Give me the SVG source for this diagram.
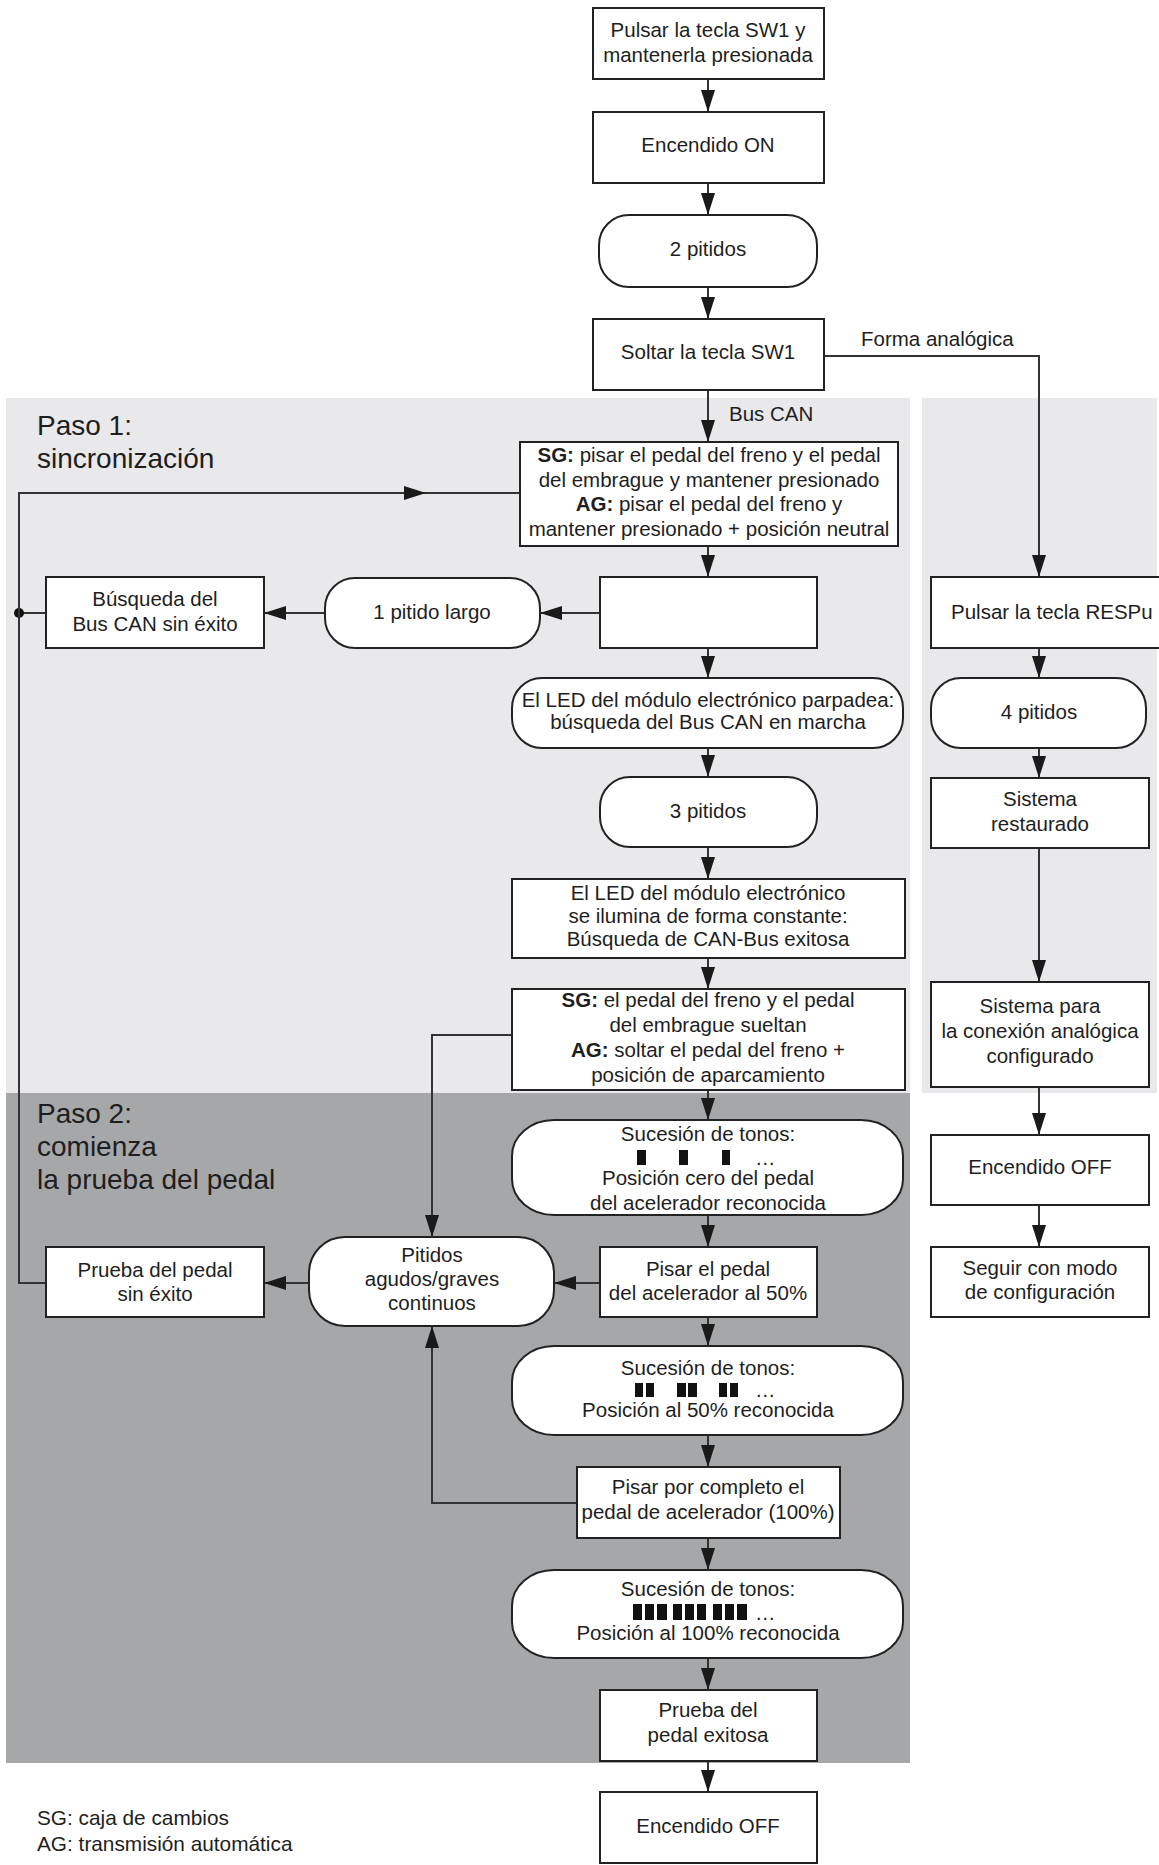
<svg xmlns="http://www.w3.org/2000/svg" width="1159" height="1865" viewBox="0 0 1159 1865">
<defs>
<marker id="ah" markerUnits="userSpaceOnUse" markerWidth="22" markerHeight="14" refX="22" refY="7" orient="auto">
<path d="M0,0 L22,7 L0,14 z" fill="#1a1a1a"/>
</marker>
<style>
.box{fill:#fff;stroke:#222;stroke-width:2}
.t{font-family:"Liberation Sans",Arial,sans-serif;font-size:20.5px;fill:#1e1e1e;text-anchor:middle}
.tl{font-family:"Liberation Sans",Arial,sans-serif;font-size:20.5px;fill:#1e1e1e}
.lg{font-family:"Liberation Sans",Arial,sans-serif;font-size:20.8px;fill:#1e1e1e}
.big{font-family:"Liberation Sans",Arial,sans-serif;font-size:28px;fill:#1e1e1e}
.c{fill:none;stroke:#333;stroke-width:2}
.ca{fill:none;stroke:#333;stroke-width:2;marker-end:url(#ah)}
.bar{fill:#111}
.b{font-weight:bold}
</style>
</defs>
<rect width="1159" height="1865" fill="#fff"/>
<g id="panels">
<rect x="6" y="398" width="904" height="695" fill="#e9e9eb"/>
<rect x="6" y="1093" width="904" height="670" fill="#a5a7a9"/>
<rect x="922" y="398" width="235" height="695" fill="#e9e9eb"/>
<text class="big" x="37" y="435">Paso 1:</text>
<text class="big" x="37" y="468">sincronización</text>
<text class="big" x="37" y="1123">Paso 2:</text>
<text class="big" x="37" y="1156">comienza</text>
<text class="big" x="37" y="1189">la prueba del pedal</text>
</g>
<g id="connectors">
<line class="ca" x1="708" y1="79" x2="708" y2="112"/>
<line class="ca" x1="708" y1="183" x2="708" y2="215"/>
<line class="ca" x1="708" y1="287" x2="708" y2="319"/>
<line class="ca" x1="708" y1="390" x2="708" y2="442"/>
<line class="ca" x1="708" y1="546" x2="708" y2="577"/>
<line class="ca" x1="708" y1="648" x2="708" y2="678"/>
<line class="ca" x1="708" y1="748" x2="708" y2="777"/>
<line class="ca" x1="708" y1="847" x2="708" y2="879"/>
<line class="ca" x1="708" y1="958" x2="708" y2="989"/>
<line class="ca" x1="708" y1="1090" x2="708" y2="1120"/>
<line class="ca" x1="708" y1="1215" x2="708" y2="1247"/>
<line class="ca" x1="708" y1="1317" x2="708" y2="1346"/>
<line class="ca" x1="708" y1="1435" x2="708" y2="1467"/>
<line class="ca" x1="708" y1="1538" x2="708" y2="1570"/>
<line class="ca" x1="708" y1="1658" x2="708" y2="1690"/>
<line class="ca" x1="708" y1="1761" x2="708" y2="1792"/>
<path class="ca" d="M824,356 H1039 V577"/>
<line class="ca" x1="1039" y1="648" x2="1039" y2="678"/>
<line class="ca" x1="1039" y1="748" x2="1039" y2="778"/>
<line class="ca" x1="1039" y1="848" x2="1039" y2="982"/>
<line class="ca" x1="1039" y1="1087" x2="1039" y2="1135"/>
<line class="ca" x1="1039" y1="1205" x2="1039" y2="1247"/>
<line class="ca" x1="600" y1="613" x2="540" y2="613"/>
<line class="ca" x1="325" y1="613" x2="264" y2="613"/>
<line class="c" x1="46" y1="613" x2="19" y2="613"/>
<circle cx="19" cy="613" r="5" fill="#111"/>
<path class="c" d="M46,1283 H19 V493 H520"/>
<line class="ca" x1="300" y1="493" x2="426" y2="493"/>
<path class="ca" d="M512,1035 H432 V1237"/>
<path class="ca" d="M577,1503 H432 V1326"/>
<line class="ca" x1="600" y1="1283" x2="554" y2="1283"/>
<line class="ca" x1="309" y1="1283" x2="264" y2="1283"/>
<text class="tl" x="861" y="346">Forma analógica</text>
<text class="tl" x="729" y="421">Bus CAN</text>
</g>
<g id="n1"><rect class="box" x="593" y="8" width="231" height="71"/><text class="t" x="708" y="37">Pulsar la tecla SW1 y</text><text class="t" x="708" y="62">mantenerla presionada</text></g>
<g id="n2"><rect class="box" x="593" y="112" width="231" height="71"/><text class="t" x="708" y="152">Encendido ON</text></g>
<g id="n3"><rect class="box" x="599" y="215" width="218" height="72" rx="30" ry="30"/><text class="t" x="708" y="256">2 pitidos</text></g>
<g id="n4"><rect class="box" x="593" y="319" width="231" height="71"/><text class="t" x="708" y="359">Soltar la tecla SW1</text></g>
<g id="n5"><rect class="box" x="520" y="442" width="378" height="104"/>
<text class="t" x="709" y="462"><tspan class="b">SG:</tspan> pisar el pedal del freno y el pedal</text>
<text class="t" x="709" y="487">del embrague y mantener presionado</text>
<text class="t" x="709" y="511"><tspan class="b">AG:</tspan> pisar el pedal del freno y</text>
<text class="t" x="709" y="536">mantener presionado + posición neutral</text></g>
<g id="n6"><rect class="box" x="600" y="577" width="217" height="71"/></g>
<g id="n7"><rect class="box" x="325" y="578" width="215" height="70" rx="30" ry="30"/><text class="t" x="432" y="619">1 pitido largo</text></g>
<g id="n8"><rect class="box" x="46" y="577" width="218" height="71"/><text class="t" x="155" y="606">Búsqueda del</text><text class="t" x="155" y="631">Bus CAN sin éxito</text></g>
<g id="n9"><rect class="box" x="512" y="678" width="391" height="70" rx="30" ry="30"/><text class="t" x="708" y="707">El LED del módulo electrónico parpadea:</text><text class="t" x="708" y="729">búsqueda del Bus CAN en marcha</text></g>
<g id="n10"><rect class="box" x="600" y="777" width="217" height="70" rx="30" ry="30"/><text class="t" x="708" y="818">3 pitidos</text></g>
<g id="n11"><rect class="box" x="512" y="879" width="393" height="79"/><text class="t" x="708" y="900">El LED del módulo electrónico</text><text class="t" x="708" y="923">se ilumina de forma constante:</text><text class="t" x="708" y="946">Búsqueda de CAN-Bus exitosa</text></g>
<g id="n12"><rect class="box" x="512" y="989" width="393" height="101"/>
<text class="t" x="708" y="1007"><tspan class="b">SG:</tspan> el pedal del freno y el pedal</text>
<text class="t" x="708" y="1032">del embrague sueltan</text>
<text class="t" x="708" y="1057"><tspan class="b">AG:</tspan> soltar el pedal del freno +</text>
<text class="t" x="708" y="1082">posición de aparcamiento</text></g>
<g id="n13"><rect class="box" x="512" y="1120" width="391" height="95" rx="42" ry="36"/>
<text class="t" x="708" y="1141">Sucesión de tonos:</text>
<rect class="bar" x="637" y="1150" width="9" height="15"/><rect class="bar" x="679" y="1150" width="9" height="15"/><rect class="bar" x="722" y="1150" width="8" height="15"/>
<text class="tl" x="755" y="1165">…</text>
<text class="t" x="708" y="1185">Posición cero del pedal</text>
<text class="t" x="708" y="1210">del acelerador reconocida</text></g>
<g id="n14"><rect class="box" x="600" y="1247" width="217" height="70"/><text class="t" x="708" y="1276">Pisar el pedal</text><text class="t" x="708" y="1300">del acelerador al 50%</text></g>
<g id="n15"><rect class="box" x="309" y="1237" width="245" height="89" rx="36" ry="36"/><text class="t" x="432" y="1262">Pitidos</text><text class="t" x="432" y="1286">agudos/graves</text><text class="t" x="432" y="1310">continuos</text></g>
<g id="n16"><rect class="box" x="46" y="1247" width="218" height="70"/><text class="t" x="155" y="1277">Prueba del pedal</text><text class="t" x="155" y="1301">sin éxito</text></g>
<g id="n17"><rect class="box" x="512" y="1346" width="391" height="89" rx="42" ry="36"/>
<text class="t" x="708" y="1375">Sucesión de tonos:</text>
<rect class="bar" x="635" y="1383" width="8" height="14"/><rect class="bar" x="646" y="1383" width="8" height="14"/>
<rect class="bar" x="677" y="1383" width="9" height="14"/><rect class="bar" x="688" y="1383" width="9" height="14"/>
<rect class="bar" x="719" y="1383" width="8" height="14"/><rect class="bar" x="730" y="1383" width="8" height="14"/>
<text class="tl" x="755" y="1397">…</text>
<text class="t" x="708" y="1417">Posición al 50% reconocida</text></g>
<g id="n18"><rect class="box" x="577" y="1467" width="263" height="71"/><text class="t" x="708" y="1494">Pisar por completo el</text><text class="t" x="708" y="1519">pedal de acelerador (100%)</text></g>
<g id="n19"><rect class="box" x="512" y="1570" width="391" height="88" rx="42" ry="36"/>
<text class="t" x="708" y="1596">Sucesión de tonos:</text>
<rect class="bar" x="633" y="1604" width="9" height="16"/><rect class="bar" x="645" y="1604" width="9" height="16"/><rect class="bar" x="657" y="1604" width="10" height="16"/>
<rect class="bar" x="673" y="1604" width="9" height="16"/><rect class="bar" x="685" y="1604" width="9" height="16"/><rect class="bar" x="697" y="1604" width="9" height="16"/>
<rect class="bar" x="713" y="1604" width="9" height="16"/><rect class="bar" x="725" y="1604" width="9" height="16"/><rect class="bar" x="737" y="1604" width="10" height="16"/>
<text class="tl" x="755" y="1620">…</text>
<text class="t" x="708" y="1640">Posición al 100% reconocida</text></g>
<g id="n20"><rect class="box" x="600" y="1690" width="217" height="71"/><text class="t" x="708" y="1717">Prueba del</text><text class="t" x="708" y="1742">pedal exitosa</text></g>
<g id="n21"><rect class="box" x="600" y="1792" width="217" height="71"/><text class="t" x="708" y="1833">Encendido OFF</text></g>
<g id="r1"><rect class="box" x="931" y="577" width="240" height="71"/><text class="tl" x="951" y="619">Pulsar la tecla RESPu</text></g>
<g id="r2"><rect class="box" x="931" y="678" width="215" height="70" rx="30" ry="30"/><text class="t" x="1039" y="719">4 pitidos</text></g>
<g id="r3"><rect class="box" x="931" y="778" width="218" height="70"/><text class="t" x="1040" y="806">Sistema</text><text class="t" x="1040" y="831">restaurado</text></g>
<g id="r4"><rect class="box" x="931" y="982" width="218" height="105"/><text class="t" x="1040" y="1013">Sistema para</text><text class="t" x="1040" y="1038">la conexión analógica</text><text class="t" x="1040" y="1063">configurado</text></g>
<g id="r5"><rect class="box" x="931" y="1135" width="218" height="70"/><text class="t" x="1040" y="1174">Encendido OFF</text></g>
<g id="r6"><rect class="box" x="931" y="1247" width="218" height="70"/><text class="t" x="1040" y="1275">Seguir con modo</text><text class="t" x="1040" y="1299">de configuración</text></g>
<g id="legend"><text class="lg" x="37" y="1825">SG: caja de cambios</text><text class="lg" x="37" y="1851">AG: transmisión automática</text></g>
</svg>
